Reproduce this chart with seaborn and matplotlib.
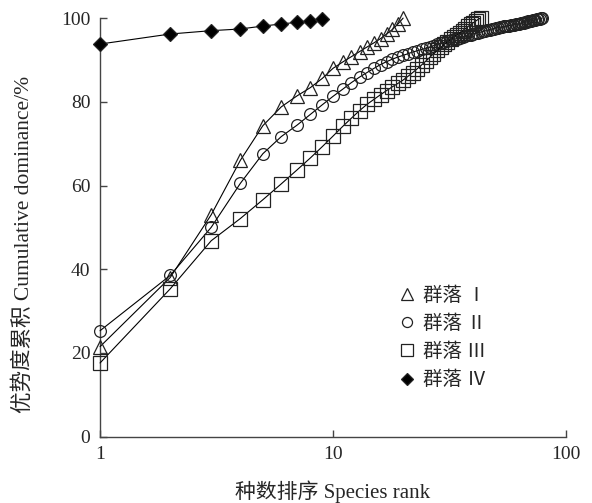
import numpy as np
import pandas as pd
import matplotlib
matplotlib.use("Agg")
import matplotlib.pyplot as plt
import seaborn as sns
from matplotlib.lines import Line2D
from matplotlib.ticker import FixedLocator, NullLocator, FixedFormatter

# 累积优势度数据（按物种排序）
comm_I = [21.5, 38.0, 53.0, 66.0, 74.3, 78.8, 81.4, 83.4, 85.6, 88.0,
          89.5, 90.8, 92.0, 93.1, 94.1, 95.1, 96.2, 97.3, 98.6, 100.0]

comm_II = [25.3, 38.5, 50.0, 60.5, 67.6, 71.7, 74.4, 77.0, 79.3, 81.3,
           83.0, 84.6, 85.9, 87.0, 88.0, 88.9, 89.6, 90.2, 90.7, 91.1,
           91.5, 91.9, 92.2, 92.5, 92.8, 93.1, 93.4, 93.7, 94.0, 94.2,
           94.45, 94.7, 94.9, 95.1, 95.3, 95.5, 95.7, 95.9, 96.05, 96.2,
           96.35, 96.5, 96.65, 96.8, 96.95, 97.1, 97.25, 97.4, 97.5, 97.6,
           97.7, 97.8, 97.9, 98.0, 98.1, 98.15, 98.2, 98.3, 98.35, 98.4,
           98.5, 98.6, 98.7, 98.8, 98.85, 98.9, 99.0, 99.1, 99.2, 99.3,
           99.35, 99.45, 99.55, 99.6, 99.7, 99.8, 99.85, 99.92, 100.0]

comm_III = [17.6, 35.3, 46.8, 52.1, 56.6, 60.4, 63.7, 66.6, 69.3, 71.8,
            74.1, 76.1, 77.9, 79.4, 80.6, 81.7, 82.7, 83.6, 84.4, 85.2,
            86.1, 87.0, 87.9, 88.8, 89.7, 90.6, 91.5, 92.3, 93.0, 93.7,
            94.3, 94.9, 95.5, 96.0, 96.5, 97.0, 97.5, 98.0, 98.5, 98.9,
            99.3, 99.7, 100.0]

comm_IV = [93.8, 96.2, 97.0, 97.4, 98.1, 98.6, 99.0, 99.4, 99.9]

labels = ["群落 Ⅰ", "群落 Ⅱ", "群落 Ⅲ", "群落 Ⅳ"]
x_ticks = [1, 10, 100]
y_ticks = [0, 20, 40, 60, 80, 100]

sns.set_style("ticks")
plt.rcParams['font.family'] = ['Liberation Serif', 'Noto Sans CJK SC', 'DejaVu Sans']
plt.rcParams['xtick.direction'] = 'in'
plt.rcParams['ytick.direction'] = 'in'

fig = plt.figure(figsize=(5.92, 5.03), dpi=100)
ax = fig.add_axes([0.169, 0.132, 0.787, 0.832])

series = [comm_I, comm_II, comm_III, comm_IV]
markers = ['^', 'o', 's', 'D']
sizes = [9.5, 8.5, 9.5, 7.5]
filled = [False, False, False, True]

for vals, mk, ms, fill in zip(series, markers, sizes, filled):
    ranks = np.arange(1, len(vals) + 1)
    sns.lineplot(x=ranks, y=vals, ax=ax, color='black', linewidth=0.8,
                 marker=mk, markersize=ms, markeredgecolor='#222222',
                 markerfacecolor='black' if fill else 'none',
                 markeredgewidth=0.9, clip_on=False, zorder=3)

ax.set_xscale('log')
ax.set_xlim(1, 100)
ax.set_ylim(0, 100)
ax.xaxis.set_major_locator(FixedLocator(x_ticks))
ax.xaxis.set_major_formatter(FixedFormatter([str(t) for t in x_ticks]))
ax.xaxis.set_minor_locator(NullLocator())
ax.set_yticks(y_ticks)

for s in ['top', 'right']:
    ax.spines[s].set_visible(False)
for s in ['left', 'bottom']:
    ax.spines[s].set_color('#444444')
    ax.spines[s].set_linewidth(1.0)
ax.tick_params(length=5, width=1.0, color='#444444', labelsize=14, pad=7)

ax.set_xlabel("种数排序 Species rank", fontsize=15)
ax.set_ylabel("优势度累积 Cumulative dominance/%", fontsize=15.5)
ax.xaxis.set_label_coords(0.5, -0.104)
ax.yaxis.set_label_coords(-0.142, 0.458)

handles = []
for mk, ms, fill, lab in zip(markers, sizes, filled, labels):
    handles.append(Line2D([], [], linestyle='none', marker=mk, markersize=ms * 0.85,
                          markeredgecolor='#222222', markeredgewidth=0.9,
                          markerfacecolor='black' if fill else 'none', label=lab))
ax.legend(handles=handles, loc='upper left', bbox_to_anchor=(0.6, 0.40),
          frameon=False, fontsize=14, handlelength=1.0, handletextpad=0.35,
          labelspacing=0.5)

fig.savefig("out.png", dpi=100)
